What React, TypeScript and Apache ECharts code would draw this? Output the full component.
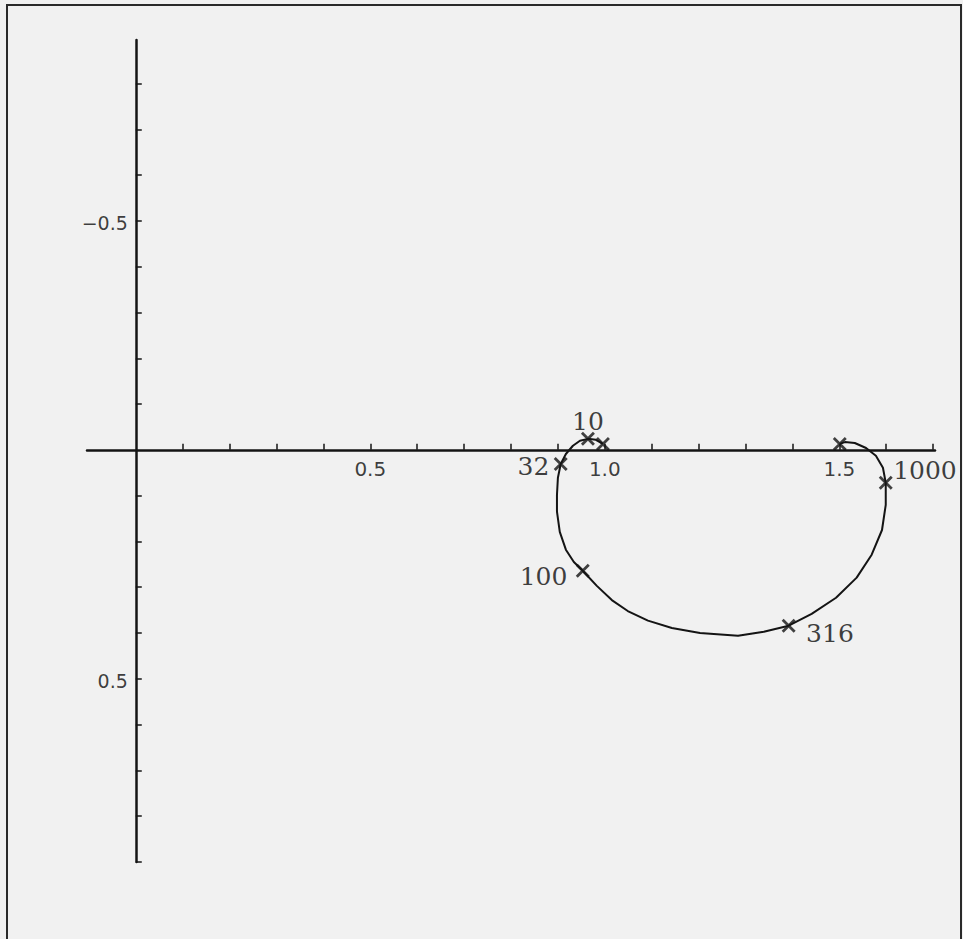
import React, { useEffect, useRef } from "react";
import * as echarts from "echarts";

// Nyquist locus: real part and imaginary part (imaginary axis drawn positive-down)
const curveRe = [
  0.996, 0.981, 0.964, 0.947, 0.932, 0.917, 0.906, 0.9, 0.898, 0.898, 0.904, 0.917,
  0.934, 0.953, 0.983, 1.015, 1.049, 1.092, 1.143, 1.203, 1.284, 1.339, 1.392, 1.441,
  1.493, 1.537, 1.569, 1.591, 1.599, 1.599, 1.593, 1.578, 1.557, 1.533, 1.512, 1.501,
];
const curveIm = [
  -0.013, -0.022, -0.024, -0.02, -0.009, 0.009, 0.031, 0.061, 0.098, 0.135, 0.179, 0.218,
  0.245, 0.264, 0.297, 0.328, 0.352, 0.373, 0.389, 0.4, 0.406, 0.397, 0.384, 0.358,
  0.323, 0.279, 0.229, 0.175, 0.12, 0.072, 0.039, 0.013, -0.004, -0.015, -0.017, -0.013,
];

// Marked frequencies along the locus ("" = unlabelled mark)
const markLabels = ["", "10", "32", "100", "316", "1000", ""];
const markRe = [0.996, 0.964, 0.906, 0.953, 1.392, 1.599, 1.501];
const markIm = [-0.013, -0.024, 0.031, 0.264, 0.384, 0.072, -0.013];

const xTicks = [0.1, 0.2, 0.3, 0.4, 0.5, 0.6, 0.7, 0.8, 0.9, 1.0, 1.1, 1.2, 1.3, 1.4, 1.5, 1.6, 1.7];
const xTickLabels = [0.5, 1.0, 1.5];
const yTicks = [-0.8, -0.7, -0.6, -0.5, -0.4, -0.3, -0.2, -0.1, 0.1, 0.2, 0.3, 0.4, 0.5, 0.6, 0.7, 0.8, 0.9];
const yTickLabels = [-0.5, 0.5];

const INK = "#141414";

const fmt = (v: number) => (v < 0 ? "\u2212" + Math.abs(v).toFixed(1) : v.toFixed(1));

export default function App() {
  const ref = useRef<HTMLDivElement>(null);

  useEffect(() => {
    if (!ref.current) return;
    const chart = echarts.init(ref.current, null, { renderer: "svg" });

    const labelPos: Record<string, any> = {
      "10": { position: "top", distance: 0, offset: [0, 3] },
      "32": { position: "left", distance: 4, offset: [0, 2] },
      "100": { position: "left", distance: 8, offset: [0, 6] },
      "316": { position: "right", distance: 10, offset: [0, 8] },
      "1000": { position: "right", distance: 0, offset: [0, -12] },
    };

    const marks = markRe.map((re, i) => {
      const name = markLabels[i];
      return {
        value: [re, markIm[i]],
        name,
        label: name
          ? { show: true, formatter: name, ...labelPos[name] }
          : { show: false },
      };
    });

    // Tick labels sit next to the axes that cross at the origin
    const xLabelData = xTickLabels.map((v) => ({ value: [v, 0], label: { formatter: fmt(v) } }));
    const yLabelData = yTickLabels.map((v) => ({ value: [0, v], label: { formatter: fmt(v) } }));

    chart.setOption({
      animation: false,
      backgroundColor: "#f1f1f1",
      grid: { left: 87, right: 28, top: 40, bottom: 77, containLabel: false },
      xAxis: {
        type: "value",
        min: -0.104,
        max: 1.704,
        splitLine: { show: false },
        axisLine: { onZero: true, lineStyle: { color: INK, width: 2.5 } },
        axisTick: {
          show: true,
          inside: true,
          length: 6,
          customValues: xTicks,
          lineStyle: { color: INK, width: 1.5 },
        },
        axisLabel: { show: false },
      },
      yAxis: {
        type: "value",
        inverse: true,
        min: -0.895,
        max: 0.9,
        splitLine: { show: false },
        axisLine: { onZero: true, lineStyle: { color: INK, width: 2.5 } },
        axisTick: {
          show: true,
          inside: true,
          length: 6,
          customValues: yTicks,
          lineStyle: { color: INK, width: 1.5 },
        },
        axisLabel: { show: false },
      },
      graphic: [
        {
          type: "rect",
          shape: { x: 7, y: 5, width: 954, height: 945 },
          style: { fill: "none", stroke: "#2a2a2a", lineWidth: 2 },
          silent: true,
        },
      ],
      series: [
        {
          type: "line",
          data: curveRe.map((re, i) => [re, curveIm[i]]),
          showSymbol: false,
          smooth: false,
          lineStyle: { color: INK, width: 2 },
          z: 3,
        },
        {
          type: "scatter",
          data: marks,
          symbol: "path://M0,0L10,10M10,0L0,10",
          symbolSize: 12,
          itemStyle: { color: INK, borderColor: INK, borderWidth: 2.8 },
          label: {
            color: "#0c0c0c",
            fontFamily: "DejaVu Serif",
            fontSize: 25,
          },
          z: 4,
        },
        {
          type: "scatter",
          data: xLabelData,
          symbolSize: 0,
          silent: true,
          label: {
            show: true,
            position: "bottom",
            distance: 9,
            color: "#0c0c0c",
            fontFamily: "DejaVu Sans",
            fontSize: 20,
          },
        },
        {
          type: "scatter",
          data: yLabelData,
          symbolSize: 0,
          silent: true,
          label: {
            show: true,
            position: "left",
            distance: 8,
            offset: [0, 2],
            color: "#0c0c0c",
            fontFamily: "DejaVu Sans",
            fontSize: 19,
          },
        },
      ],
    });

    return () => chart.dispose();
  }, []);

  return (
    <div
      ref={ref}
      style={{ position: "fixed", left: 0, top: 0, width: 963, height: 939 }}
    />
  );
}
